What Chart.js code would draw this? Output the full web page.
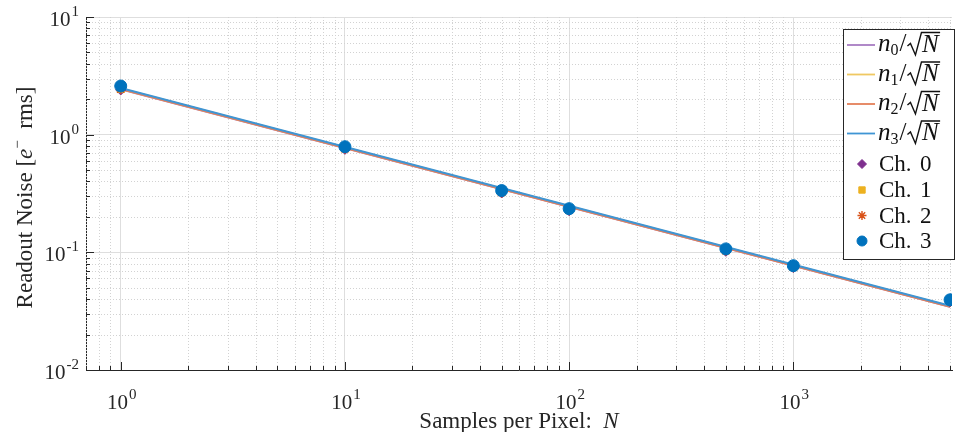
<!DOCTYPE html>
<html>
<head>
<meta charset="utf-8">
<script src="https://cdn.jsdelivr.net/npm/chart.js"></script>
<style>
  html, body { margin: 0; padding: 0; background: #fff; }
  #wrap { width: 959px; height: 432px; }
</style>
</head>
<body>
<div id="wrap"><canvas id="noiseChart"></canvas></div>
<script>
// samples per pixel and measured readout noise per channel [e- rms]
const samplesN = [1, 10, 50, 100, 500, 1000, 5000];
const noiseCh0 = [2.40, 0.750, 0.320, 0.226, 0.102, 0.0742, 0.0380];
const noiseCh1 = [2.45, 0.765, 0.326, 0.230, 0.104, 0.0752, 0.0385];
const noiseCh2 = [2.43, 0.760, 0.322, 0.228, 0.103, 0.0746, 0.0382];
const noiseCh3 = [2.59, 0.790, 0.335, 0.235, 0.107, 0.0770, 0.0395];

// n_k / sqrt(N) fit lines, read at both ends of the range
const fitN = [1, 5000];
const fitCh0 = [2.44, 0.0345];
const fitCh1 = [2.46, 0.0348];
const fitCh2 = [2.45, 0.0346];
const fitCh3 = [2.49, 0.0352];

// tick labels are 10^p
const xTickPowers = [0, 1, 2, 3];
const yTickPowers = [-2, -1, 0, 1];

const markerColors = ['#7E2F8E', '#EDB120', '#D95319', '#0072BD'];
const lineColors = ['#a77cc2', '#efc862', '#e47f58', '#3f95d4'];
const markerStyles = ['rectRot', 'rect', 'star', 'circle'];

const SERIF = '"Liberation Serif", "DejaVu Serif", serif';

function toPoints(xs, ys) {
    return xs.map(function(x, i) { return { x: x, y: ys[i] }; });
}

const fitSets = [fitCh0, fitCh1, fitCh2, fitCh3];
const noiseSets = [noiseCh0, noiseCh1, noiseCh2, noiseCh3];

const datasets = [];
fitSets.forEach(function(vals, k) {
    datasets.push({
        label: 'fit ' + k,
        data: toPoints(fitN, vals),
        borderColor: lineColors[k],
        borderWidth: 2.2,
        pointRadius: 0,
        fill: false,
        order: 10 - k
    });
});
noiseSets.forEach(function(vals, k) {
    datasets.push({
        label: 'Ch. ' + k,
        data: toPoints(samplesN, vals),
        showLine: false,
        pointStyle: markerStyles[k],
        pointRadius: k === 3 ? 6 : 5,
        borderWidth: k === 2 ? 1.4 : 1,
        backgroundColor: markerColors[k],
        borderColor: markerColors[k],
        order: 4 - k
    });
});

function minorValues(min, max) {
    const out = [];
    for (let p = Math.floor(Math.log10(min)); p <= Math.ceil(Math.log10(max)); p++) {
        for (let m = 1; m <= 9; m++) {
            const v = m * Math.pow(10, p);
            if (v >= min * 0.999 && v <= max * 1.001) out.push({ v: v, major: m === 1 });
        }
    }
    return out;
}

// draws "10" with a raised exponent; anchor is 'center' or 'right'
function drawPow(ctx, x, baseline, exp, anchor) {
    ctx.font = '21px ' + SERIF;
    const w1 = ctx.measureText('10').width;
    ctx.font = '15px ' + SERIF;
    const w2 = ctx.measureText(String(exp)).width;
    const total = w1 + w2 + 1;
    const x0 = anchor === 'right' ? x - total : x - total / 2;
    ctx.font = '21px ' + SERIF;
    ctx.fillText('10', x0, baseline);
    ctx.font = '15px ' + SERIF;
    ctx.fillText(String(exp), x0 + w1 + 1, baseline - 10);
}

function drawPieces(ctx, pieces, cx, baseline) {
    let total = 0;
    pieces.forEach(function(p) { ctx.font = p.f; p.w = ctx.measureText(p.t).width; total += p.w; });
    let x = cx - total / 2;
    pieces.forEach(function(p) {
        ctx.font = p.f;
        ctx.fillText(p.t, x, baseline + (p.dy || 0));
        x += p.w;
    });
}

function drawFitLabel(ctx, x, y, k) {
    ctx.font = 'italic 25px ' + SERIF;
    ctx.fillText('n', x, y + 6);
    x += ctx.measureText('n').width;
    ctx.font = '16px ' + SERIF;
    ctx.fillText(String(k), x, y + 10);
    x += ctx.measureText(String(k)).width + 1;
    ctx.font = '25px ' + SERIF;
    ctx.fillText('/', x, y + 6);
    x += ctx.measureText('/').width + 1;
    ctx.font = 'italic 25px ' + SERIF;
    const wN = ctx.measureText('N').width;
    ctx.save();
    ctx.lineWidth = 1.4;
    ctx.strokeStyle = '#111';
    ctx.beginPath();
    ctx.moveTo(x, y + 1);
    ctx.lineTo(x + 3, y - 1.5);
    ctx.lineTo(x + 8, y + 10);
    ctx.lineTo(x + 14, y - 12.5);
    ctx.lineTo(x + 16 + wN, y - 12.5);
    ctx.stroke();
    ctx.restore();
    ctx.fillText('N', x + 14.5, y + 6.5);
}

const mathAxes = {
    id: 'mathAxes',
    beforeDatasetsDraw: function(chart) {
        const ctx = chart.ctx;
        const a = chart.chartArea;
        const xs = chart.scales.x, ys = chart.scales.y;
        ctx.save();
        ctx.strokeStyle = '#d2d2d2';
        ctx.lineWidth = 1;
        ctx.setLineDash([1, 2]);
        minorValues(xs.min, xs.max).forEach(function(t) {
            if (t.major) return;
            const px = Math.round(xs.getPixelForValue(t.v)) + 0.5;
            ctx.beginPath(); ctx.moveTo(px, a.top); ctx.lineTo(px, a.bottom); ctx.stroke();
        });
        minorValues(ys.min, ys.max).forEach(function(t) {
            if (t.major) return;
            const py = Math.round(ys.getPixelForValue(t.v)) + 0.5;
            ctx.beginPath(); ctx.moveTo(a.left, py); ctx.lineTo(a.right, py); ctx.stroke();
        });
        ctx.restore();
    },
    afterDraw: function(chart) {
        const ctx = chart.ctx;
        const a = chart.chartArea;
        const xs = chart.scales.x, ys = chart.scales.y;
        ctx.save();

        // inward tick marks
        ctx.strokeStyle = '#262626';
        ctx.lineWidth = 1;
        minorValues(xs.min, xs.max).forEach(function(t) {
            const px = Math.round(xs.getPixelForValue(t.v)) + 0.5;
            ctx.beginPath(); ctx.moveTo(px, a.bottom); ctx.lineTo(px, a.bottom - (t.major ? 8 : 4)); ctx.stroke();
        });
        minorValues(ys.min, ys.max).forEach(function(t) {
            const py = Math.round(ys.getPixelForValue(t.v)) + 0.5;
            ctx.beginPath(); ctx.moveTo(a.left, py); ctx.lineTo(a.left + (t.major ? 8 : 4), py); ctx.stroke();
        });

        // tick labels
        ctx.fillStyle = '#262626';
        ctx.textBaseline = 'alphabetic';
        xTickPowers.forEach(function(p) {
            drawPow(ctx, xs.getPixelForValue(Math.pow(10, p)) + 1, 409, p, 'center');
        });
        yTickPowers.forEach(function(p) {
            drawPow(ctx, a.left - 7, ys.getPixelForValue(Math.pow(10, p)) + 9, p, 'right');
        });

        // axis titles
        drawPieces(ctx, [
            { t: 'Samples per Pixel:  ', f: '23px ' + SERIF },
            { t: 'N', f: 'italic 23px ' + SERIF }
        ], (a.left + a.right) / 2, 428);

        ctx.save();
        ctx.translate(32, (a.top + a.bottom) / 2 + 4);
        ctx.rotate(-Math.PI / 2);
        drawPieces(ctx, [
            { t: 'Readout Noise [', f: '23px ' + SERIF },
            { t: 'e', f: 'italic 23px ' + SERIF },
            { t: '\u2212', f: '15px ' + SERIF, dy: -10 },
            { t: '  rms]', f: '23px ' + SERIF }
        ], 0, 0);
        ctx.restore();

        // legend
        const bx = 843.5, by = 29.5, bw = 111, bh = 230;
        ctx.fillStyle = '#fff';
        ctx.fillRect(bx, by, bw, bh);
        ctx.strokeStyle = '#262626';
        ctx.lineWidth = 1;
        ctx.strokeRect(bx, by, bw, bh);

        const fitRows = [45, 74.5, 104, 133.5];
        const chRows = [164, 190, 215.5, 241];
        ctx.fillStyle = '#111';
        fitRows.forEach(function(ry, k) {
            ctx.strokeStyle = lineColors[k];
            ctx.lineWidth = 1.8;
            ctx.beginPath(); ctx.moveTo(847, ry); ctx.lineTo(875, ry); ctx.stroke();
            drawFitLabel(ctx, 878, ry, k);
        });
        chRows.forEach(function(ry, k) {
            const ds = chart.data.datasets[4 + k];
            ctx.fillStyle = ds.backgroundColor;
            ctx.strokeStyle = ds.borderColor;
            ctx.lineWidth = ds.borderWidth;
            Chart.helpers.drawPoint(ctx, {
                pointStyle: ds.pointStyle, radius: k === 3 ? 5 : 4.5, rotation: 0, borderWidth: ds.borderWidth
            }, 862, ry);
            ctx.fillStyle = '#111';
            ctx.font = '23px ' + SERIF;
            ctx.fillText('Ch.', 879, ry + 7);
            ctx.fillText(String(k), 920, ry + 7);
        });

        ctx.restore();
    }
};

new Chart(document.getElementById('noiseChart'), {
    type: 'line',
    data: { datasets: datasets },
    plugins: [mathAxes],
    options: {
        responsive: true,
        maintainAspectRatio: false,
        animation: false,
        layout: { padding: { left: 86, top: 17, right: 6, bottom: 62 } },
        plugins: {
            legend: { display: false },
            tooltip: { enabled: false }
        },
        scales: {
            x: {
                type: 'logarithmic',
                min: 0.7,
                max: 5100,
                ticks: { display: false },
                grid: { color: '#dedede', drawTicks: false },
                border: { color: '#262626' },
                afterBuildTicks: function(scale) {
                    scale.ticks = xTickPowers.map(function(p) { return { value: Math.pow(10, p), major: true }; });
                }
            },
            y: {
                type: 'logarithmic',
                min: 0.01,
                max: 10,
                ticks: { display: false },
                grid: { color: '#dedede', drawTicks: false },
                border: { color: '#262626' },
                afterBuildTicks: function(scale) {
                    scale.ticks = yTickPowers.map(function(p) { return { value: Math.pow(10, p), major: true }; });
                }
            }
        }
    }
});
</script>
</body>
</html>
